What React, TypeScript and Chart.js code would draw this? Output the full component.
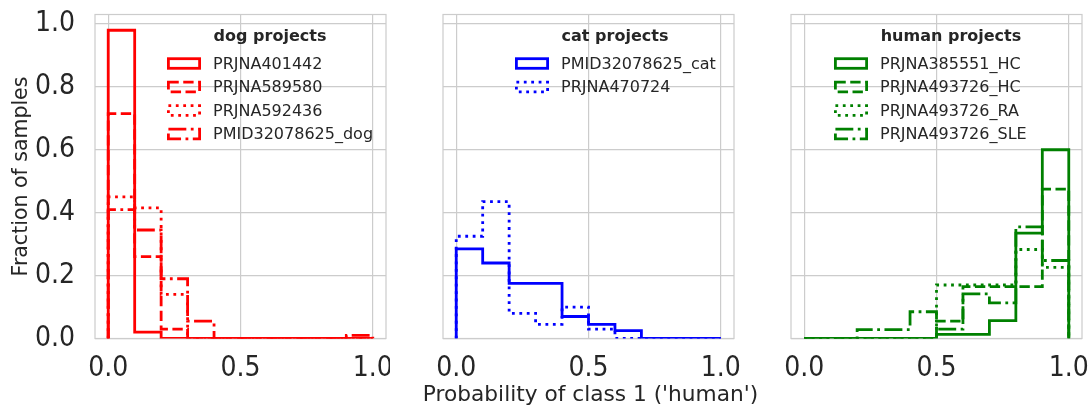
import React, { useEffect, useRef } from "react";
import { Chart, registerables } from "chart.js";

Chart.register(...registerables);

// ---------- data ----------
const binEdges = [0.0, 0.1, 0.2, 0.3, 0.4, 0.5, 0.6, 0.7, 0.8, 0.9, 1.0];
const xTickValues = [0.0, 0.5, 1.0];
const yTickStep = 0.2;

const dogNames = ["PRJNA401442", "PRJNA589580", "PRJNA592436", "PMID32078625_dog"];
const dogPRJNA401442 = [0.98, 0.02, 0, 0, 0, 0, 0, 0, 0, 0];
const dogPRJNA589580 = [0.715, 0.26, 0.03, 0, 0, 0, 0, 0, 0, 0];
const dogPRJNA592436 = [0.45, 0.415, 0.14, 0, 0, 0, 0, 0, 0, 0];
const dogPMID32078625 = [0.41, 0.345, 0.19, 0.055, 0, 0, 0, 0, 0, 0.01];

const catNames = ["PMID32078625_cat", "PRJNA470724"];
const catPMID32078625 = [0.285, 0.24, 0.175, 0.175, 0.07, 0.045, 0.025, 0, 0, 0];
const catPRJNA470724 = [0.325, 0.435, 0.08, 0.045, 0.1, 0.03, 0, 0, 0, 0];

const humanNames = ["PRJNA385551_HC", "PRJNA493726_HC", "PRJNA493726_RA", "PRJNA493726_SLE"];
const humanPRJNA385551HC = [0, 0, 0, 0, 0, 0.013, 0.013, 0.057, 0.335, 0.6];
const humanPRJNA493726HC = [0, 0, 0, 0, 0, 0.055, 0.165, 0.165, 0.165, 0.475];
const humanPRJNA493726RA = [0, 0, 0, 0, 0, 0.17, 0.17, 0.17, 0.283, 0.226];
const humanPRJNA493726SLE = [0, 0, 0.028, 0.028, 0.085, 0.03, 0.142, 0.113, 0.355, 0.248];

const xAxisTitle = "Probability of class 1 ('human')";
const yAxisTitle = "Fraction of samples";

// ---------- styles ----------
const FONT_C = '"DejaVu Sans Condensed", "DejaVu Sans", sans-serif';
const FONT_R = '"DejaVu Sans", sans-serif';
const TEXT = "#262626";
const GRID = "#cccccc";
const LW = 2.8;
const DASHES: Record<string, number[]> = {
  solid: [],
  dashed: [LW * 3.7, LW * 1.6],
  dotted: [LW * 1, LW * 1.65],
  dashdot: [LW * 6.4, LW * 1.6, LW * 1, LW * 1.6],
};

const panels = [
  {
    key: "dog", title: "dog projects", color: "#ff0000",
    names: dogNames,
    series: [dogPRJNA401442, dogPRJNA589580, dogPRJNA592436, dogPMID32078625],
    styles: ["solid", "dashed", "dotted", "dashdot"],
    left: 0, width: 390, yWidth: 95, rightPad: 4,
    patchLeft: 72, titleCenter: 175, showY: true, showXTitle: false,
  },
  {
    key: "cat", title: "cat projects", color: "#0000ff",
    names: catNames,
    series: [catPMID32078625, catPRJNA470724],
    styles: ["solid", "dotted"],
    left: 390, width: 390, yWidth: 53, rightPad: 46,
    patchLeft: 72, titleCenter: 172, showY: false, showXTitle: true,
  },
  {
    key: "human", title: "human projects", color: "#008000",
    names: humanNames,
    series: [humanPRJNA385551HC, humanPRJNA493726HC, humanPRJNA493726RA, humanPRJNA493726SLE],
    styles: ["solid", "dashed", "dotted", "dashdot"],
    left: 740, width: 349, yWidth: 51, rightPad: 7,
    patchLeft: 43, titleCenter: 160, showY: false, showXTitle: false,
  },
];

function stepPoints(values: number[]) {
  const pts = [{ x: binEdges[0], y: 0 }];
  values.forEach((v, i) => pts.push({ x: binEdges[i], y: v }));
  pts.push({ x: binEdges[binEdges.length - 1], y: 0 });
  return pts;
}

const framePlugin = {
  id: "frame",
  beforeDatasetsDraw(chart: any) {
    const { ctx, chartArea } = chart;
    ctx.save();
    ctx.strokeStyle = GRID;
    ctx.lineWidth = 1.2;
    ctx.strokeRect(chartArea.left, chartArea.top, chartArea.right - chartArea.left, chartArea.bottom - chartArea.top);
    ctx.restore();
  },
};

// x-axis title drawn without Chart.js' maxWidth squeeze
const xTitlePlugin = {
  id: "xTitle",
  afterDraw(chart: any, _args: any, opts: any) {
    if (!opts.show) return;
    const { ctx, chartArea } = chart;
    ctx.save();
    ctx.fillStyle = TEXT;
    ctx.font = `21.7px ${FONT_R}`;
    ctx.textAlign = "center";
    ctx.textBaseline = "middle";
    ctx.fillText(xAxisTitle, (chartArea.left + chartArea.right) / 2 + 2, 395);
    ctx.restore();
  },
};

const legendPlugin = {
  id: "histLegend",
  afterDatasetsDraw(chart: any, _args: any, opts: any) {
    const { ctx, chartArea } = chart;
    ctx.save();
    const x0 = chartArea.left + opts.patchLeft;
    ctx.fillStyle = TEXT;
    ctx.font = `bold 16px ${FONT_R}`;
    ctx.textAlign = "center";
    ctx.textBaseline = "middle";
    ctx.fillText(opts.title, chartArea.left + opts.titleCenter, chartArea.top + 22);
    chart.data.datasets.forEach((ds: any, i: number) => {
      const cy = chartArea.top + 49 + i * 23.5;
      ctx.setLineDash(ds.borderDash || []);
      ctx.lineWidth = LW;
      ctx.strokeStyle = ds.borderColor;
      ctx.strokeRect(x0 + 1.4, cy - 4.8, 31.2, 9.6);
      ctx.setLineDash([]);
      ctx.font = `16px ${FONT_R}`;
      ctx.textAlign = "left";
      ctx.fillStyle = TEXT;
      ctx.fillText(ds.label, x0 + 46, cy + 1);
    });
    ctx.restore();
  },
};

function makeConfig(p: any): any {
  return {
    type: "line",
    data: {
      datasets: p.series.map((vals: number[], i: number) => ({
        label: p.names[i],
        data: stepPoints(vals),
        borderColor: p.color,
        backgroundColor: "transparent",
        borderWidth: LW,
        borderDash: DASHES[p.styles[i]],
        borderCapStyle: "butt",
        borderJoinStyle: "miter",
        pointRadius: 0,
        fill: false,
        stepped: "before",
        tension: 0,
        clip: 0,
      })),
    },
    options: {
      responsive: false,
      animation: false,
      events: [],
      layout: { padding: { top: 14.5, left: 0, right: p.rightPad, bottom: 0 } },
      plugins: {
        legend: { display: false },
        tooltip: { enabled: false },
        histLegend: { title: p.title, patchLeft: p.patchLeft, titleCenter: p.titleCenter },
        xTitle: { show: p.showXTitle },
      },
      scales: {
        x: {
          type: "linear",
          min: -0.05,
          max: 1.05,
          afterBuildTicks: (scale: any) => {
            scale.ticks = xTickValues.map((v) => ({ value: v }));
          },
          afterFit: (scale: any) => {
            scale.height = 69.5;
            scale.paddingLeft = 0;
            scale.paddingRight = 0;
          },
          ticks: {
            includeBounds: false,
            padding: 13,
            color: TEXT,
            font: { family: FONT_C, size: 28 },
            maxRotation: 0,
            autoSkip: false,
            callback: (v: number) => Number(v).toFixed(1),
          },
          grid: { color: GRID, lineWidth: 1.2, drawTicks: false },
          border: { display: false },
          title: { display: false },
        },
        y: {
          type: "linear",
          min: 0,
          max: 1.03,
          afterFit: (scale: any) => {
            scale.width = p.yWidth;
            scale.paddingTop = 0;
            scale.paddingBottom = 0;
          },
          ticks: {
            display: p.showY,
            stepSize: yTickStep,
            includeBounds: false,
            padding: 20,
            color: TEXT,
            font: { family: FONT_C, size: 28 },
            callback: (v: number) => Number(v).toFixed(1),
          },
          grid: { color: GRID, lineWidth: 1.2, drawTicks: false },
          border: { display: false },
          title: {
            display: p.showY,
            text: yAxisTitle,
            color: TEXT,
            font: { family: FONT_R, size: 20.5 },
            padding: { top: 9.7, bottom: 0 },
          },
        },
      },
    },
    plugins: [framePlugin, legendPlugin, xTitlePlugin],
  };
}

export default function App() {
  const r0 = useRef<HTMLCanvasElement>(null);
  const r1 = useRef<HTMLCanvasElement>(null);
  const r2 = useRef<HTMLCanvasElement>(null);
  const refs = [r0, r1, r2];

  useEffect(() => {
    const charts = panels.map((p, i) => new Chart(refs[i].current as HTMLCanvasElement, makeConfig(p)));
    return () => charts.forEach((c) => c.destroy());
  }, []);

  return (
    <div style={{ position: "absolute", left: 0, top: 0, width: 1089, height: 408, background: "#ffffff" }}>
      {panels.map((p, i) => (
        <canvas
          key={p.key}
          ref={refs[i]}
          width={p.width}
          height={408}
          style={{ position: "absolute", left: p.left, top: 0, width: p.width, height: 408 }}
        />
      ))}
    </div>
  );
}
